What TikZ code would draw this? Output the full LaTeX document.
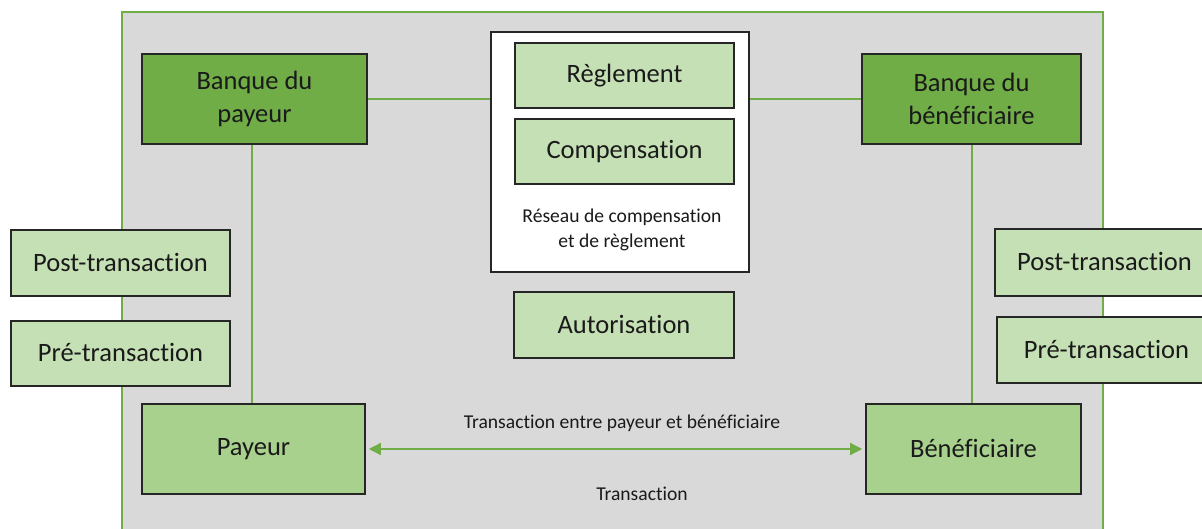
\documentclass[tikz,border=0pt]{standalone}
\usepackage{fontspec}
\setmainfont{Carlito}[Ligatures={NoCommon}]
\usetikzlibrary{arrows.meta}
\definecolor{bggray}{HTML}{D9D9D9}
\definecolor{gborder}{HTML}{70AD47}
\definecolor{gdark}{HTML}{70AD47}
\definecolor{glight}{HTML}{C5E0B4}
\definecolor{gmid}{HTML}{A9D18E}
\definecolor{edgeblack}{HTML}{262626}
\definecolor{txt}{HTML}{1A1A1A}
\tikzset{
  box/.style={draw=edgeblack, line width=1.6pt, inner sep=0pt, align=center,
    text=txt, font=\fontsize{26.5}{33}\selectfont},
  bank/.style={box, fill=gdark},
  light/.style={box, fill=glight},
  mid/.style={box, fill=gmid},
  conn/.style={draw=gborder, line width=1.4pt},
  small/.style={font=\fontsize{19.6}{25}\selectfont, text=txt, align=center, inner sep=0pt}
}
\begin{document}
\begin{tikzpicture}[x=1pt,y=-1pt]
\useasboundingbox (0,0) rectangle (1202,529);
\clip (0,0) rectangle (1202,529);
% background panel
\path[fill=bggray, draw=gborder, line width=1.4pt] (122,12) rectangle (1103,560);
% nodes
\node[bank, minimum width=225pt, minimum height=90pt] (bp) at (254.5,99) {Banque du\\payeur};
\node[bank, minimum width=219pt, minimum height=90pt] (bb) at (971.5,99) {Banque du\\bénéficiaire};
\node[draw=edgeblack, fill=white, line width=1.6pt, minimum width=258pt, minimum height=240pt, inner sep=0pt] (net) at (620,152) {};
\node[light, minimum width=219pt, minimum height=65pt] (regl) at (624.5,75.5) {\raisebox{2pt}{Règlement}};
\node[light, minimum width=219pt, minimum height=65pt] (comp) at (624.5,151.5) {\raisebox{2pt}{Compensation}};
\node[small] (netlab) at (622,229.5) {Réseau de compensation\\et de règlement};
\node[light, minimum width=220pt, minimum height=66pt] (auto) at (624,325) {\raisebox{2pt}{Autorisation}};
\node[light, minimum width=219pt, minimum height=66pt] (postl) at (120.5,263) {\raisebox{2pt}{Post-transaction}};
\node[light, minimum width=219pt, minimum height=65pt] (prel) at (120.5,353.5) {\raisebox{2pt}{Pré-transaction}};
\node[light, minimum width=219pt, minimum height=67pt] (postr) at (1104.5,262.5) {\raisebox{2pt}{Post-transaction}};
\node[light, minimum width=219pt, minimum height=66pt] (prer) at (1106.5,350) {\raisebox{2pt}{Pré-transaction}};
\node[mid, minimum width=223pt, minimum height=90pt] (pay) at (253.5,449) {\raisebox{1pt}{Payeur}};
\node[mid, minimum width=215pt, minimum height=90pt] (ben) at (973.5,449) {\raisebox{1pt}{Bénéficiaire}};
\node[small] (tlab) at (622,423) {Transaction entre payeur et bénéficiaire};
\node[small] (tlab2) at (642,494) {Transaction};
% connectors
\draw[conn] (bp.east |- 0,99) -- (net.west |- 0,99);
\draw[conn] (net.east |- 0,99) -- (bb.west |- 0,99);
\draw[conn] (252,0 |- bp.south) -- (252,0 |- pay.north);
\draw[conn] (972,0 |- bb.south) -- (972,0 |- ben.north);
\draw[conn, {Triangle[length=12pt,width=12pt]}-{Triangle[length=12pt,width=12pt]}, shorten <=3pt, shorten >=3pt] (pay.east) -- (ben.west);
\end{tikzpicture}
\end{document}
